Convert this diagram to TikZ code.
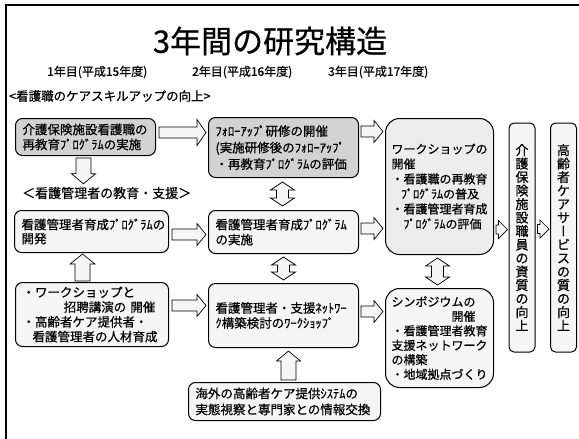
\documentclass[tikz,border=0pt]{standalone}
\usepackage{fontspec}
\setmainfont{Noto Sans CJK JP}[FakeBold=0.6]
\newfontfamily\vertfont[RawFeature=+vert,FakeBold=0.6]{Noto Sans CJK JP}
\usetikzlibrary{calc}
% horizontal block arrow: #1 start, #2 end (x used), #3 shaft half width, #4 head half width
\newcommand\harr[4]{%
  \coordinate (hs) at #1; \coordinate (ht) at #2; \coordinate (he) at (hs -| ht);
  \draw[barrow] ($(hs)+(0,#3)$) -- ($(he)+(-9,#3)$) -- ($(he)+(-9,#4)$) -- (he)
    -- ($(he)+(-9,-#4)$) -- ($(he)+(-9,-#3)$) -- ($(hs)+(0,-#3)$) -- cycle;}
% vertical block arrow: #1 start, #2 end (y used), #3 shaft, #4 head, #5 = 1 down / -1 up
\newcommand\varr[5]{%
  \coordinate (vs) at #1; \coordinate (vt) at #2; \coordinate (ve) at (vs |- vt);
  \draw[barrow] ($(vs)+(#3,0)$) -- ($(ve)+(#3,{-10*#5})$) -- ($(ve)+(#4,{-10*#5})$) -- (ve)
    -- ($(ve)+(-#4,{-10*#5})$) -- ($(ve)+(-#3,{-10*#5})$) -- ($(vs)+(-#3,0)$) -- cycle;}
% double vertical block arrow: #1 top, #2 bottom (y used), #3 shaft, #4 head
\newcommand\dvarr[4]{%
  \coordinate (dt) at #1; \coordinate (db0) at #2; \coordinate (db) at (dt |- db0);
  \draw[barrow] (dt) -- ($(dt)+(#4,8)$) -- ($(dt)+(#3,8)$) -- ($(db)+(#3,-8)$) -- ($(db)+(#4,-8)$)
    -- (db) -- ($(db)+(-#4,-8)$) -- ($(db)+(-#3,-8)$) -- ($(dt)+(-#3,8)$) -- ($(dt)+(-#4,8)$) -- cycle;}
\begin{document}
\begin{tikzpicture}[x=1pt,y=-1pt,
  box/.style={draw=black, line width=1pt, rounded corners=7pt, fill=gray!8,
    inner xsep=7pt, inner ysep=2pt, align=left, anchor=north west,
    font=\fontsize{12.5}{15}\selectfont},
  darkbox/.style={box, fill=gray!35},
  bigbox/.style={box, rounded corners=14pt, inner xsep=6pt, font=\fontsize{12}{15}\selectfont},
  vbox/.style={draw=black, line width=1pt, rounded corners=5pt, fill=gray!8,
    inner sep=0pt, align=center, minimum width=26pt, minimum height=229pt,
    font=\fontsize{13}{13.5}\selectfont},
  barrow/.style={draw=black, line width=0.7pt, fill=gray!8, line join=miter},
  lbl/.style={inner sep=0pt, anchor=west}]
\useasboundingbox (0,0) rectangle (579,439);
\fill[white] (0,0) rectangle (579,439);
\draw[line width=1.5pt] (6,439) -- (6,5) -- (579,5);

\node[inner sep=0pt, font=\fontsize{31}{36}\selectfont] (title) at (270,41) {3年間の研究構造};
\node[lbl, font=\fontsize{12}{14}\selectfont] (y1) at (47,72) {1年目(平成15年度)};
\node[lbl, font=\fontsize{12}{14}\selectfont] (y2) at (192,72) {2年目(平成16年度)};
\node[lbl, font=\fontsize{12}{14}\selectfont] (y3) at (328,72) {3年目(平成17年度)};
\node[lbl, font=\fontsize{12.5}{15}\selectfont] (h1) at (9,96) {<看護職のケアスキルアップの向上>};
\node[lbl, font=\fontsize{13}{15}\selectfont] (h2) at (22,193) {＜看護管理者の教育・支援＞};

\node[darkbox, text width=126pt, minimum height=37pt] (A1) at (15,118)
  {介護保険施設看護職の\\再教育ﾌﾟﾛｸﾞﾗﾑの実施};
\node[darkbox, text width=136pt, minimum height=60pt, font=\fontsize{12.5}{16.5}\selectfont] (B1) at (208,117)
  {ﾌｫﾛｰｱｯﾌﾟ研修の開催\\(実施研修後のﾌｫﾛｰｱｯﾌﾟ\\・再教育ﾌﾟﾛｸﾞﾗﾑの評価};
\node[bigbox, fill=gray!15, text width=96pt, minimum height=136pt] (C) at (385,118)
  {ワークショップの\\開催\\・看護職の再教育\\\hspace*{0.8em}ﾌﾟﾛｸﾞﾗﾑの普及\\・看護管理者育成\\\hspace*{1em}ﾌﾟﾛｸﾞﾗﾑの評価};
\node[box, text width=140pt, minimum height=42pt, font=\fontsize{12.5}{14}\selectfont] (A2) at (14,210)
  {看護管理者育成ﾌﾟﾛｸﾞﾗﾑの\\開発};
\node[box, text width=136pt, minimum height=43pt] (B2) at (208,210)
  {看護管理者育成ﾌﾟﾛｸﾞﾗﾑ\\の実施};
\node[box, text width=139pt, minimum height=64pt, font=\fontsize{12.5}{14.8}\selectfont] (A3) at (15,282)
  {・ワークショップと\\\hspace*{3.3em}招聘講演の 開催\\・高齢者ケア提供者・\\\hspace*{0.8em}看護管理者の人材育成};
\node[box, text width=136pt, minimum height=64pt] (B3) at (208,283)
  {看護管理者・支援ﾈｯﾄﾜｰ\\ｸ構築検討のﾜｰｸｼｮｯﾌﾟ};
\node[bigbox, text width=96pt, minimum height=99pt, font=\fontsize{12}{14.5}\selectfont] (D) at (385,288)
  {シンポジウムの\\\hspace*{5em}開催\\・看護管理者教育\\支援ネットワーク\\の構築\\・地域拠点づくり};
\node[box, text width=178pt, minimum height=38pt, font=\fontsize{12.5}{16}\selectfont] (E) at (188,382)
  {海外の高齢者ケア提供ｼｽﾃﾑの\\実態視察と専門家との情報交換};
\node[vbox] (F) at (522,237.5)
  {介\\護\\保\\険\\施\\設\\職\\員\\の\\資\\質\\の\\向\\上};
\node[vbox] (G) at (563.5,237.5)
  {高\\齢\\者\\ケ\\ア\\サ\\{\vertfont ー}\\ビ\\ス\\の\\質\\の\\向\\上};

% horizontal arrows
\harr{($(A1.east)+(3,-4.5)$)}{($(B1.west)+(-2,0)$)}{5.5}{13}
\harr{($(B1.east)+(2,-16)$)}{($(C.west)+(-2,0)$)}{5.5}{11}
\harr{($(A2.east)+(3,3)$)}{($(B2.west)+(-2,0)$)}{5.5}{11}
\harr{($(B2.east)+(2,-3.5)$)}{($(C.west)+(-2,0)$)}{5.5}{11}
\harr{($(A3.east)+(3,-9)$)}{($(B3.west)+(-2,0)$)}{5.5}{11}
\harr{($(B3.east)+(2,-4)$)}{($(D.west)+(-2,0)$)}{5.5}{11}
\harr{($(C.east)+(2,43)$)}{($(F.west)+(-1,0)$)}{4.5}{9}
\harr{($(F.east)+(2,-8.5)$)}{($(G.west)+(-1,0)$)}{4.5}{9}
% vertical arrows
\varr{($(A1.south)+(-2,2)$)}{($(h2.north)+(0,-3)$)}{7.5}{12}{1}
\varr{($(A3.north)+(-9.5,-1)$)}{($(A2.south)+(0,1)$)}{7.5}{12.5}{-1}
\varr{($(E.north)+(4,-2)$)}{($(B3.south)+(0,3)$)}{7.5}{12}{-1}
\dvarr{($(B1.south)+(-1,4)$)}{($(B2.north)+(0,-4)$)}{6}{12}
\dvarr{($(B2.south)+(0,3)$)}{($(B3.north)+(0,-3)$)}{6}{12}
\dvarr{($(C.south)+(-2,3)$)}{($(D.north)+(0,-3)$)}{6}{12}
\end{tikzpicture}
\end{document}
